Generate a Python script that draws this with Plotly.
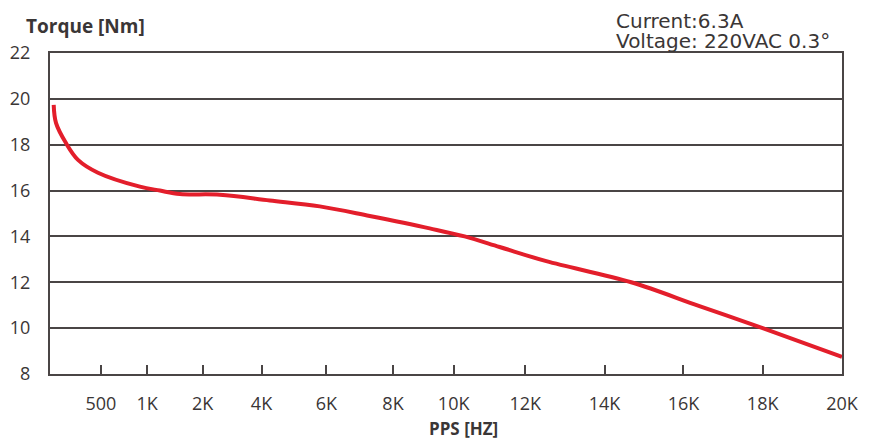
import numpy as np
import plotly.graph_objects as go

# Curve data: frequency (Hz) and torque (Nm)
pps_hz = [0, 25, 133, 257, 468, 921, 1229, 1590, 2586, 4255, 5794, 7300,
          9209, 10307, 11283, 12530, 14676, 16404, 18000, 20000]
torque_nm = [19.74, 18.94, 18.05, 17.34, 16.78, 16.17, 16.0, 15.85, 15.82,
             15.57, 15.31, 14.89, 14.35, 14.0, 13.54, 12.92, 12.0, 10.96,
             10.0, 8.75]

# Non-uniform frequency scale of the original axis (Hz -> scale units)
scale_hz = [0, 500, 1000, 2000, 4000, 6000, 8000, 10000, 12000, 14000, 16000, 18000, 20000]
scale_units = [3.7, 51, 97.3, 152.7, 211.7, 276.7, 343.3, 404, 475.7, 555, 634, 713.3, 792.7]

tick_hz = [500, 1000, 2000, 4000, 6000, 8000, 10000, 12000, 14000, 16000, 18000, 20000]
tick_labels = ["500", "1K", "2K", "4K", "6K", "8K", "10K", "12K", "14K", "16K", "18K", "20K"]
y_ticks = [8, 10, 12, 14, 16, 18, 20, 22]


def to_scale(hz):
    return np.interp(hz, scale_hz, scale_units)


axis_col = "#4a4545"
text_col = "#3a3636"

fig = go.Figure()
fig.add_trace(go.Scatter(
    x=to_scale(pps_hz), y=torque_nm, mode="lines",
    line=dict(color="#e31e2b", width=4, shape="spline", smoothing=1.0),
    hoverinfo="skip", showlegend=False,
))

# page body has an 8px margin, so the figure is placed 8px in from the corner
fig.update_layout(
    width=875, height=431,
    margin=dict(l=42, r=41, t=45, b=65),
    paper_bgcolor="white", plot_bgcolor="white",
    font=dict(family="Open Sans", size=18, color=text_col),
    xaxis=dict(
        range=[0, to_scale(20000)], tickmode="array",
        tickvals=to_scale(tick_hz), ticktext=tick_labels,
        ticks="inside", ticklen=9, tickwidth=1.5, tickcolor=axis_col,
        showline=True, linecolor=axis_col, linewidth=2, mirror=True,
        showgrid=False, zeroline=False, ticklabelstandoff=12, automargin=False,
        tickfont=dict(family="Open Sans", size=18, color=text_col),
    ),
    yaxis=dict(
        range=[8, 22], tickmode="array", tickvals=y_ticks,
        ticks="", showline=True, linecolor=axis_col, linewidth=2, mirror=True,
        showgrid=True, gridcolor=axis_col, gridwidth=1.5, zeroline=False,
        ticklabelstandoff=14, automargin=False,
        tickfont=dict(family="Open Sans", size=18, color=text_col),
    ),
)

fig.add_annotation(text="<b>Torque [Nm]</b>", xref="paper", yref="paper",
                   x=-26/792, y=1 + 27/321, xanchor="left", yanchor="middle",
                   showarrow=False, font=dict(family="Open Sans", size=19, color=text_col))
fig.add_annotation(text="<b>PPS [HZ]</b>", xref="paper", yref="paper",
                   x=(463-50)/792, y=-(428-374)/321, xanchor="center", yanchor="middle",
                   showarrow=False, font=dict(family="Open Sans", size=17, color=text_col))
fig.add_annotation(text="Current:6.3A", xref="paper", yref="paper",
                   x=(617-50)/792 - 0.004, y=1 + (53-20.5)/321, xanchor="left", yanchor="middle",
                   showarrow=False, font=dict(family="DejaVu Sans", size=20, color=text_col))
fig.add_annotation(text="Voltage: 220VAC 0.3°", xref="paper", yref="paper",
                   x=(617-50)/792 - 0.004, y=1 + (53-41)/321, xanchor="left", yanchor="middle",
                   showarrow=False, font=dict(family="DejaVu Sans", size=20, color=text_col))

fig.write_html("out.html")
